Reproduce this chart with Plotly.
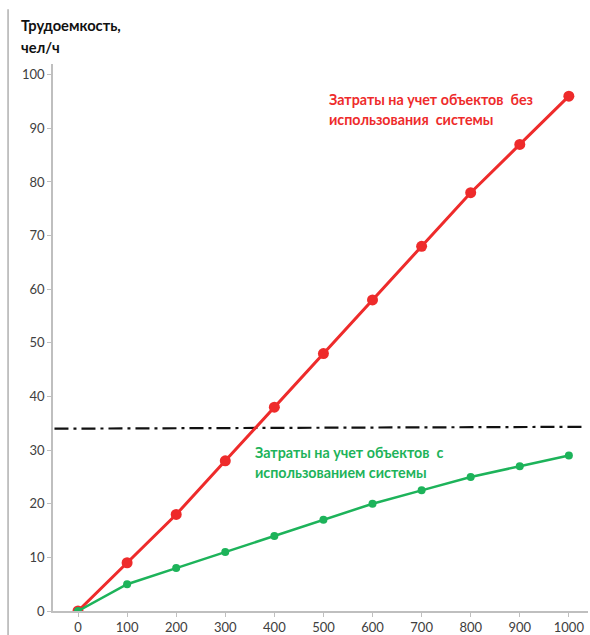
import plotly.graph_objects as go

x_vals = [0, 100, 200, 300, 400, 500, 600, 700, 800, 900, 1000]
without_system = [0, 9, 18, 28, 38, 48, 58, 68, 78, 87, 96]
with_system = [0, 5, 8, 11, 14, 17, 20, 22.5, 25, 27, 29]
threshold_x = [-48, 1035]
threshold_y = [34.0, 34.35]
y_ticks = [0, 10, 20, 30, 40, 50, 60, 70, 80, 90, 100]

red_lines = ["Затраты на учет объектов  без", "использования  системы"]
green_lines = ["Затраты на учет объектов  с", "использованием системы"]
title_lines = ["Трудоемкость,", "чел/ч"]

red = "#ee2b2b"
green = "#1db35a"
font = "Lato"

T, B = 64, 24
H = 635 - T - B

fig = go.Figure()
fig.add_trace(go.Scatter(x=threshold_x, y=threshold_y, mode="lines",
                         line=dict(color="#111111", width=2.2, dash="14px,5px,3px,5px"),
                         hoverinfo="skip"))
fig.add_trace(go.Scatter(x=x_vals, y=without_system, mode="lines+markers",
                         line=dict(color=red, width=3),
                         marker=dict(color=red, size=11)))
fig.add_trace(go.Scatter(x=x_vals, y=with_system, mode="lines+markers",
                         line=dict(color=green, width=2.5),
                         marker=dict(color=green, size=8)))

for i, t in enumerate(red_lines):
    fig.add_annotation(x=0.512, y=1 - (100 + 19 * i - T) / H, xref="paper", yref="paper",
                       xanchor="left", yanchor="middle", text=t, showarrow=False,
                       font=dict(family=font, size=14.3, color=red, weight="bold"))
for i, t in enumerate(green_lines):
    fig.add_annotation(x=0.374, y=1 - (452 + 20 * i - T) / H, xref="paper", yref="paper",
                       xanchor="left", yanchor="middle", text=t, showarrow=False,
                       font=dict(family=font, size=14.3, color=green, weight="bold"))
for i, t in enumerate(title_lines):
    fig.add_annotation(x=-0.064, y=1 - (25 + 22 * i - T) / H, xref="paper", yref="paper",
                       xanchor="left", yanchor="middle", text=t, showarrow=False,
                       font=dict(family=font, size=14.7, color="#111111", weight="bold"))
# left frame line
fig.add_shape(type="line", xref="paper", yref="paper", x0=-0.084, x1=-0.084, y0=-0.05, y1=1.1,
              line=dict(color="#b0b0b0", width=1.5))

fig.update_layout(
    width=590, height=635,
    margin=dict(l=53, r=2, t=T, b=B, autoexpand=False),
    paper_bgcolor="white", plot_bgcolor="white",
    showlegend=False,
    font=dict(family=font, size=13, color="#404040"),
)
fig.update_xaxes(range=[-51, 1039], tickvals=x_vals, showgrid=False, zeroline=False,
                 showline=True, linecolor="#bfbfbf", linewidth=1.5, automargin=False,
                 ticks="outside", ticklen=4, tickcolor="#bfbfbf",
                 tickfont=dict(size=13, color="#404040"))
fig.update_yaxes(range=[0, 102], tickvals=y_ticks, showgrid=False, zeroline=False,
                 showline=True, linecolor="#bfbfbf", linewidth=1.5, automargin=False,
                 ticks="outside", ticklen=4, tickcolor="#bfbfbf",
                 tickfont=dict(size=13, color="#404040"))

fig.write_html("out.html", config={"displayModeBar": False},
               post_script="document.body.style.margin='0';")
